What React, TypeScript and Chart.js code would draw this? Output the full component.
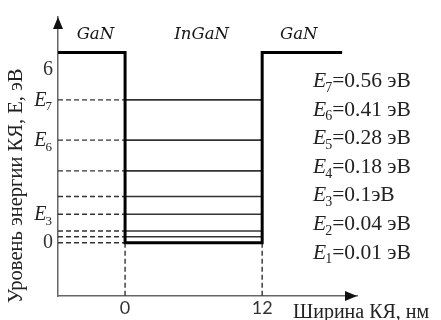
import React, { useEffect, useRef } from 'react';
import { Chart, registerables } from 'chart.js';

Chart.register(...registerables);

// ---- data (schematic axis units) ----
const xTicks = [0, 12];
const yTicks = [0, 6];
const xRange = [-5.87, 20.3];
const yRange = [-1.85, 7.85];
const profileX = [-5.87, 0, 0, 12, 12, 19];
const profileY = [6.62, 6.62, 0, 0, 6.62, 6.62];
const levelNumbers = [1, 2, 3, 4, 5, 6, 7];
const levelY = [0.21, 0.41, 0.99, 1.61, 2.5, 3.57, 4.97];
const levelEnergyText = ['0.01 эВ', '0.04 эВ', '0.1эВ', '0.18 эВ', '0.28 эВ', '0.41 эВ', '0.56 эВ'];
const axisLabeledLevels = [7, 6, 3];
const regionNames = ['GaN', 'InGaN', 'GaN'];
const regionCenters = [-2.6, 6.7, 15.2];
const xTitle = 'Ширина КЯ, нм';
const yTitle = 'Уровень энергии КЯ, E, эВ';

const SERIF = "'Liberation Serif', 'Times New Roman', serif";

function drawE(ctx: CanvasRenderingContext2D, x: number, baseline: number, n: number, size: number) {
  ctx.font = `italic ${size}px ${SERIF}`;
  ctx.textAlign = 'left';
  ctx.textBaseline = 'alphabetic';
  ctx.fillText('E', x, baseline);
  const w = ctx.measureText('E').width;
  const subSize = Math.round(size * 0.65);
  ctx.font = `${subSize}px ${SERIF}`;
  ctx.fillText(String(n), x + w - 1, baseline + size * 0.22);
  return w - 1 + ctx.measureText(String(n)).width;
}

function widthE(ctx: CanvasRenderingContext2D, n: number, size: number) {
  ctx.font = `italic ${size}px ${SERIF}`;
  const w = ctx.measureText('E').width;
  ctx.font = `${Math.round(size * 0.65)}px ${SERIF}`;
  return w - 1 + ctx.measureText(String(n)).width;
}

const decorPlugin = {
  id: 'decor',
  afterDraw(chart: any) {
    const ctx: CanvasRenderingContext2D = chart.ctx;
    const xs = chart.scales.x;
    const ys = chart.scales.y;
    const area = chart.chartArea;
    ctx.save();
    // axis arrows
    ctx.fillStyle = '#111';
    ctx.beginPath();
    ctx.moveTo(area.left, area.top);
    ctx.lineTo(area.left - 5, area.top + 12);
    ctx.lineTo(area.left + 5, area.top + 12);
    ctx.closePath();
    ctx.fill();
    ctx.beginPath();
    ctx.moveTo(area.right, area.bottom);
    ctx.lineTo(area.right - 12, area.bottom - 5);
    ctx.lineTo(area.right - 12, area.bottom + 5);
    ctx.closePath();
    ctx.fill();

    // region names
    ctx.fillStyle = '#151515';
    ctx.font = `italic 16.5px 'DejaVu Serif', serif`;
    ctx.textAlign = 'center';
    ctx.textBaseline = 'middle';
    const topPx = ys.getPixelForValue(profileY[0]);
    regionNames.forEach((name, i) => {
      ctx.fillText(name, xs.getPixelForValue(regionCenters[i]), topPx - 18);
    });

    // E labels at y axis
    ctx.fillStyle = '#222';
    axisLabeledLevels.forEach((n) => {
      const y = ys.getPixelForValue(levelY[n - 1]);
      const w = widthE(ctx, n, 20);
      drawE(ctx, area.left - 6 - w, y + 6, n, 20);
    });

    // legend of energies
    const lx = 313;
    const ly = 87;
    const step = 28.6;
    levelNumbers.slice().reverse().forEach((n, i) => {
      const base = ly + i * step;
      const w = drawE(ctx, lx, base, n, 21.5);
      ctx.font = `21.5px ${SERIF}`;
      ctx.textAlign = 'left';
      ctx.textBaseline = 'alphabetic';
      ctx.fillText('=' + levelEnergyText[n - 1], lx + w, base);
    });

    // axis titles
    ctx.font = `20px ${SERIF}`;
    ctx.textAlign = 'left';
    ctx.textBaseline = 'alphabetic';
    ctx.fillText(xTitle, 293, 318);

    ctx.translate(17, 186);
    ctx.rotate(-Math.PI / 2);
    ctx.textAlign = 'center';
    ctx.textBaseline = 'middle';
    ctx.font = `20.5px ${SERIF}`;
    ctx.fillText(yTitle, 0, 0);
    ctx.restore();
  },
};

export default function App() {
  const ref = useRef<HTMLCanvasElement | null>(null);
  useEffect(() => {
    if (!ref.current) return;
    const line = (pts: { x: number; y: number }[], color: string, width: number, dash: number[] = []) => ({
      data: pts,
      showLine: true,
      borderColor: color,
      borderWidth: width,
      borderDash: dash,
      pointRadius: 0,
      fill: false,
      tension: 0,
      borderJoinStyle: 'miter' as const,
      borderCapStyle: 'butt' as const,
    });
    const datasets: any[] = [];
    datasets.push(line(profileX.map((x, i) => ({ x, y: profileY[i] })), '#000', 3));
    levelY.forEach((y) => datasets.push(line([{ x: 0, y }, { x: 12, y }], '#333', 1.6)));
    [0, ...levelY].forEach((y) =>
      datasets.push(line([{ x: xRange[0], y }, { x: 0, y }], '#333', 1.4, [5, 3]))
    );
    xTicks.forEach((x) =>
      datasets.push(line([{ x, y: 0 }, { x, y: yRange[0] }], '#333', 1.4, [5, 3]))
    );

    const chart = new Chart(ref.current, {
      type: 'scatter',
      data: { datasets },
      options: {
        animation: false,
        responsive: false,
        layout: { padding: { top: 13, right: 84, left: 0, bottom: 0 } },
        plugins: { legend: { display: false }, tooltip: { enabled: false } },
        scales: {
          x: {
            type: 'linear',
            min: xRange[0],
            max: xRange[1],
            grid: { display: false, drawTicks: false },
            border: { display: true, color: '#666', width: 1.5 },
            afterBuildTicks: (s: any) => {
              s.ticks = xTicks.map((v) => ({ value: v }));
            },
            afterFit: (s: any) => {
              s.height = 24;
            },
            ticks: {
              autoSkip: false,
              maxRotation: 0,
              padding: 1,
              color: '#333',
              font: { family: 'Lato, sans-serif', size: 18 },
            },
          },
          y: {
            type: 'linear',
            min: yRange[0],
            max: yRange[1],
            grid: { display: false, drawTicks: false },
            border: { display: true, color: '#666', width: 1.5 },
            afterBuildTicks: (s: any) => {
              s.ticks = yTicks.map((v) => ({ value: v }));
            },
            afterFit: (s: any) => {
              s.width = 58;
            },
            ticks: {
              autoSkip: false,
              padding: 5,
              color: '#333',
              font: { family: SERIF, size: 20 },
            },
          },
        },
      },
      plugins: [decorPlugin],
    });
    return () => chart.destroy();
  }, []);

  return (
    <div style={{ position: 'absolute', left: 0, top: 0, width: 441, height: 320, background: '#fff' }}>
      <canvas ref={ref} width={441} height={320} />
    </div>
  );
}
